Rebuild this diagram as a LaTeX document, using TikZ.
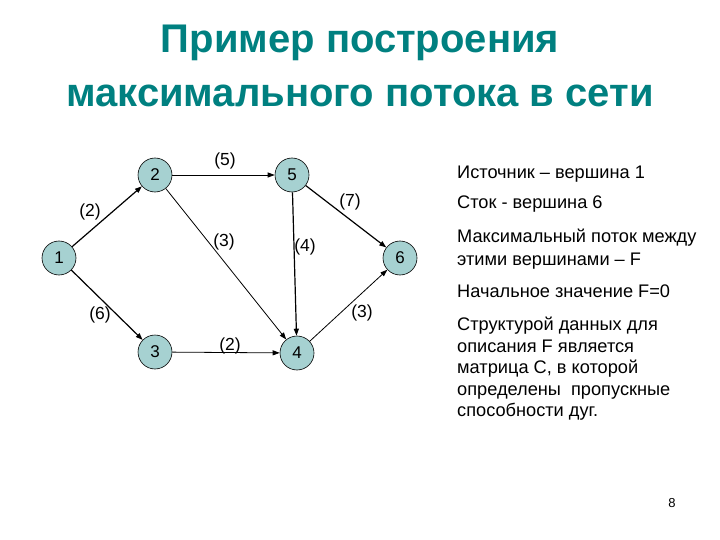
\documentclass[tikz,border=0pt]{standalone}
\usepackage{fontspec}
\setmainfont{Liberation Sans}
\usetikzlibrary{arrows.meta}
\definecolor{titleteal}{RGB}{0,128,128}
\definecolor{vertfill}{RGB}{166,209,209}
\tikzset{
  vertex/.style={circle, draw=black, fill=vertfill, line width=0.6pt, minimum size=34pt, inner sep=0pt, font=\fontsize{17}{19}\selectfont},
  arc/.style={-{Triangle[length=7pt,width=5pt]}, line width=0.8pt},
  arcbold/.style={arc, line width=1.2pt},
  capacity/.style={font=\fontsize{17.5}{19}\selectfont},
  note/.style={anchor=base west, inner sep=0pt, font=\fontsize{18.2}{21}\selectfont}
}
\begin{document}
\begin{tikzpicture}[x=1pt, y=-1pt]
\useasboundingbox (0,0) rectangle (720,540);

% Заголовок
\node[anchor=base, text=titleteal, font=\fontsize{40}{46}\bfseries] (title1) at (360,53) {Пример построения};
\node[anchor=base, text=titleteal, font=\fontsize{40}{46}\bfseries] (title2) at (360,107) {максимального потока в сети};

% Вершины сети
\node[vertex] (v1) at (59,258) {1};
\node[vertex] (v2) at (155,175) {2};
\node[vertex] (v5) at (292,175) {5};
\node[vertex] (v6) at (400,258) {6};
\node[vertex] (v3) at (155,352) {3};
\node[vertex] (v4) at (297,353) {4};

% Дуги
\draw[arcbold] (v1) -- (v2);
\draw[arcbold] (v1) -- (v3);
\draw[arc] (v2) -- (v5);
\draw[arc] (v2) -- (v4);
\draw[arcbold] (v5) -- (v4);
\draw[arcbold] (v5) -- (v6);
\draw[arc] (v3) -- (v4);
\draw[arc] (v4) -- (v6);

% Пропускные способности
\node[capacity] (c12) at (90,212) {(2)};
\node[capacity] (c25) at (225,161) {(5)};
\node[capacity] (c56) at (350,202) {(7)};
\node[capacity] (c24) at (224,242) {(3)};
\node[capacity] (c54) at (305,247) {(4)};
\node[capacity] (c13) at (100,315) {(6)};
\node[capacity] (c46) at (362,313) {(3)};
\node[capacity] (c34) at (230,346) {(2)};

% Пояснения
\node[note] (t1) at (457,179) {Источник – вершина 1};
\node[note] (t2) at (457,209) {Сток - вершина 6};
\node[note] (t3) at (457,243) {Максимальный поток между};
\node[note] (t4) at (457,265) {этими вершинами – F};
\node[note] (t5) at (457,297) {Начальное значение F=0};
\node[note] (t6) at (457,330) {Структурой данных для};
\node[note] (t7) at (457,352) {описания F является};
\node[note] (t8) at (457,373) {матрица C, в которой};
\node[note] (t9) at (457,395) {определены\ \ пропускные};
\node[note] (t10) at (457,416) {способности дуг.};

% Номер слайда
\node[font=\fontsize{13}{15}\selectfont] (page) at (672,503) {8};

\end{tikzpicture}
\end{document}
